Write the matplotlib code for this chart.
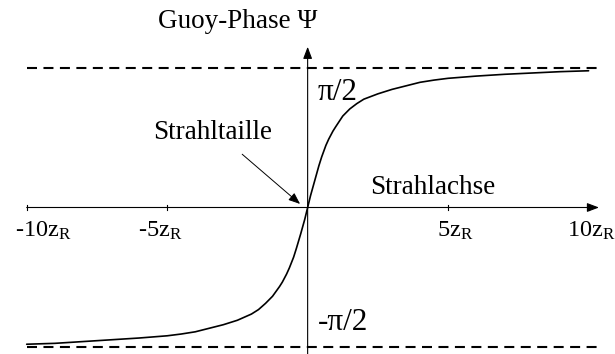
import matplotlib
matplotlib.use("Agg")
import matplotlib.pyplot as plt
import numpy as np

plt.rcParams['font.family'] = ['Liberation Serif', 'DejaVu Serif']
plt.rcParams['mathtext.fontset'] = 'custom'
plt.rcParams['mathtext.rm'] = 'Liberation Serif'
plt.rcParams['mathtext.it'] = 'Liberation Serif:italic'

# Gouy phase along the beam axis (z in units of the Rayleigh length z_R)
z_pos = [0.1, 0.25, 0.4, 0.5, 0.65, 0.75, 0.9, 1.0, 1.25, 1.5, 1.75, 2.0,
         2.5, 3.0, 3.5, 4.0, 4.5, 5.0, 6.0, 7.0, 8.0, 9.0, 10.0]
psi_pos = [0.13, 0.30, 0.47, 0.57, 0.70, 0.77, 0.86, 0.91, 1.03, 1.11, 1.17, 1.22,
           1.28, 1.33, 1.37, 1.41, 1.435, 1.455, 1.48, 1.50, 1.515, 1.53, 1.54]
z_neg = [-10.0, -9.0, -8.0, -7.0, -6.0, -5.0, -4.5, -4.0, -3.5, -3.0, -2.5, -2.0,
         -1.75, -1.5, -1.25, -1.0, -0.9, -0.75, -0.65, -0.5, -0.4, -0.25, -0.1]
psi_neg = [-1.54, -1.53, -1.51, -1.49, -1.47, -1.445, -1.425, -1.40, -1.36, -1.32,
           -1.27, -1.20, -1.15, -1.08, -1.00, -0.89, -0.84, -0.75, -0.68, -0.56,
           -0.46, -0.30, -0.13]
z_values = z_neg + [0.0] + z_pos
psi_values = psi_neg + [0.0] + psi_pos

tick_positions = [-10, -5, 5, 10]
tick_labels = [r'$\text{-10z}_\text{R}$', r'$\text{-5z}_\text{R}$',
               r'$\text{5z}_\text{R}$', r'$\text{10z}_\text{R}$']
tick_label_shift = [12, -5, 5, 2]  # horizontal nudge of each label, in points

asymptote = np.pi / 2

fig = plt.figure(figsize=(6.15, 3.54), dpi=100)
ax = fig.add_axes([0, 0, 1, 1])
ax.set_xlim(-10.95, 10.94)
ax.set_ylim(-1.65, 2.337)
ax.axis('off')

# asymptotes at +-pi/2
for level in (asymptote, -asymptote):
    ax.plot([-10, 10.35], [level, level], color='black', lw=1.5,
            linestyle=(0, (4.8, 3.1)), solid_capstyle='butt')

# phase curve
ax.plot(z_values, psi_values, color='black', lw=1.2,
        solid_joinstyle='round', solid_capstyle='round')

# coordinate axes with arrow heads
ax.annotate('', xy=(10.37, 0), xytext=(-10, 0),
            arrowprops=dict(arrowstyle='-|>,head_length=0.45,head_width=0.17',
                            mutation_scale=16, lw=0.8, color='black',
                            shrinkA=0, shrinkB=0))
ax.annotate('', xy=(0, 1.81), xytext=(0, -1.65),
            arrowprops=dict(arrowstyle='-|>,head_length=0.45,head_width=0.17',
                            mutation_scale=16, lw=0.8, color='black',
                            shrinkA=0, shrinkB=0))

# ticks and their labels
for pos, lab, dx in zip(tick_positions, tick_labels, tick_label_shift):
    ax.plot([pos, pos], [-0.025, 0.025], color='black', lw=0.8)
    ax.annotate(lab, xy=(pos, 0), xytext=(dx, -17), textcoords='offset points',
                ha='center', va='center', fontsize=17.5)

ax.text(0.33, 2.09, 'Guoy-Phase Ψ', ha='right', va='center', fontsize=19.5)
ax.text(0.37, 1.30, 'π/2', ha='left', va='center', fontsize=22.5)
ax.text(0.37, -1.29, '-π/2', ha='left', va='center', fontsize=22.5)
ax.text(2.22, 0.23, 'Strahlachse', ha='left', va='center', fontsize=19.5)
ax.text(-5.5, 0.85, 'Strahltaille', ha='left', va='center', fontsize=19.5)
ax.annotate('', xy=(-0.27, 0.04), xytext=(-2.33, 0.60),
            arrowprops=dict(arrowstyle='-|>,head_length=0.5,head_width=0.2',
                            mutation_scale=14, lw=0.7, color='black',
                            shrinkA=0, shrinkB=0))

fig.savefig('out.png', dpi=100)
